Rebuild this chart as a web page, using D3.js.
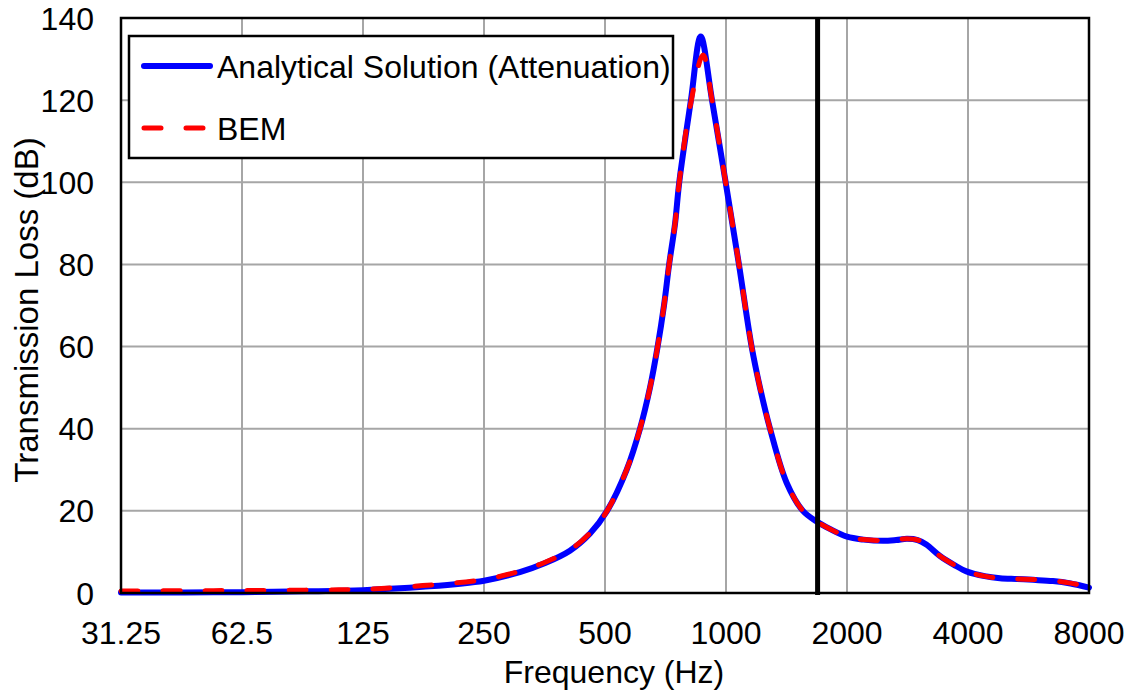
<!DOCTYPE html>
<meta charset="utf-8">
<style>
body { margin: 0; background: #fff; }
text { font-family: Arial, "Liberation Sans", sans-serif; fill: #000; }
</style>
<body>
<script src="https://d3js.org/d3.v7.min.js"></script>
<script>

var width = 1136,
    height = 692;

// frequency axis
var xTicks = [31.25, 62.5, 125, 250, 500, 1000, 2000, 4000, 8000];
var xLabels = ["31.25", "62.5", "125", "250", "500", "1000", "2000", "4000", "8000"];
var yTicks = [0, 20, 40, 60, 80, 100, 120, 140];

// analytical solution
var freqA = [31.25, 45, 62.5, 90, 125, 176, 250, 307, 355, 409, 459, 506, 566, 611, 647, 676, 701, 722, 747, 765, 818, 865, 923, 998, 1077, 1158, 1215, 1287, 1416, 1554, 1682, 1813, 2000, 2200, 2459, 2650, 2820, 3000, 3150, 3407, 3700, 3979, 4400, 4804, 5300, 5804, 6508, 7200, 8000];
var tlA   = [0.1, 0.15, 0.2, 0.4, 0.7, 1.5, 3.0, 5.1, 7.3, 10.3, 14.5, 20, 30, 40, 50, 60, 70, 80, 90, 100, 120, 135.5, 120, 100, 80, 60, 50, 40, 26.8, 20, 17.4, 15.6, 13.7, 13.0, 12.7, 12.9, 13.2, 12.9, 11.8, 9.0, 6.8, 5.2, 4.1, 3.6, 3.4, 3.2, 2.9, 2.3, 1.3];

// BEM results
var freqB = [31.25, 45, 62.5, 90, 125, 176, 250, 307, 355, 409, 459, 506, 566, 611, 647, 676, 701, 722, 747, 765, 818, 877, 923, 998, 1077, 1158, 1215, 1287, 1416, 1554, 1682, 1813, 2000, 2200, 2459, 2650, 2820, 3000, 3150, 3407, 3700, 3979, 4400, 4804, 5300, 5804, 6508, 7200, 8000];
var tlB   = [0.5, 0.55, 0.6, 0.7, 0.9, 1.8, 3.3, 5.3, 7.5, 10.5, 14.6, 20, 30, 40, 50, 60, 70, 80, 90, 100, 119.5, 131, 120, 100, 80, 60, 50, 40, 26.8, 20, 17.4, 15.6, 13.7, 13.0, 12.8, 13.0, 13.2, 12.9, 11.8, 9.0, 6.8, 5.2, 4.1, 3.6, 3.4, 3.3, 3.0, 2.4, 1.5];

var markerFreq = 1690;

var svg = d3.select("body").append("svg")
    .attr("width", width)
    .attr("height", height);

var x = d3.scaleLog().base(2)
    .domain([31.25, 8000])
    .range([121, 1089]);

var y = d3.scaleLinear()
    .domain([0, 140])
    .range([593, 18]);

// grid
svg.append("g").selectAll("line.vgrid")
    .data(xTicks)
    .enter().append("line")
    .attr("x1", function(d) { return x(d); })
    .attr("x2", function(d) { return x(d); })
    .attr("y1", y(0))
    .attr("y2", y(140))
    .style("stroke", "#a6a6a6")
    .style("stroke-width", 2);

svg.append("g").selectAll("line.hgrid")
    .data(yTicks)
    .enter().append("line")
    .attr("x1", x(31.25))
    .attr("x2", x(8000))
    .attr("y1", function(d) { return y(d); })
    .attr("y2", function(d) { return y(d); })
    .style("stroke", "#a6a6a6")
    .style("stroke-width", 2);

// tick labels
svg.append("g").selectAll("text")
    .data(xTicks)
    .enter().append("text")
    .attr("x", function(d) { return x(d); })
    .attr("y", 644)
    .attr("text-anchor", "middle")
    .style("font-size", "32px")
    .text(function(d, i) { return xLabels[i]; });

svg.append("g").selectAll("text")
    .data(yTicks)
    .enter().append("text")
    .attr("x", 94)
    .attr("y", function(d) { return y(d) + 11.5; })
    .attr("text-anchor", "end")
    .style("font-size", "32px")
    .text(function(d) { return d; });

svg.append("text")
    .attr("x", 614)
    .attr("y", 683)
    .attr("text-anchor", "middle")
    .style("font-size", "32px")
    .text("Frequency (Hz)");

svg.append("text")
    .attr("transform", "translate(38,310) rotate(-90)")
    .attr("text-anchor", "middle")
    .style("font-size", "33px")
    .text("Transmission Loss (dB)");

// curves
var lineA = d3.line()
    .x(function(d, i) { return x(freqA[i]); })
    .y(function(d) { return y(d); })
    .curve(d3.curveCatmullRom.alpha(0.5));

var lineB = d3.line()
    .x(function(d, i) { return x(freqB[i]); })
    .y(function(d) { return y(d); })
    .curve(d3.curveCatmullRom.alpha(0.5));

svg.append("path")
    .datum(tlA)
    .attr("d", lineA)
    .style("fill", "none")
    .style("stroke", "#0000ff")
    .style("stroke-width", 6)
    .style("stroke-linecap", "round")
    .style("stroke-linejoin", "round");

svg.append("path")
    .datum(tlB)
    .attr("d", lineB)
    .style("fill", "none")
    .style("stroke", "#ff0000")
    .style("stroke-width", 5)
    .style("stroke-dasharray", "17,25")
    .style("stroke-linecap", "round")
    .style("stroke-linejoin", "round");

// vertical marker
svg.append("line")
    .attr("x1", x(markerFreq))
    .attr("x2", x(markerFreq))
    .attr("y1", y(0) + 2)
    .attr("y2", y(140))
    .style("stroke", "#000")
    .style("stroke-width", 5);

// plot border
svg.append("rect")
    .attr("x", x(31.25))
    .attr("y", y(140))
    .attr("width", x(8000) - x(31.25))
    .attr("height", y(0) - y(140))
    .style("fill", "none")
    .style("stroke", "#000")
    .style("stroke-width", 2.5);

// legend
var legend = svg.append("g");
legend.append("rect")
    .attr("x", 129)
    .attr("y", 36)
    .attr("width", 544)
    .attr("height", 122)
    .style("fill", "#fff")
    .style("stroke", "#000")
    .style("stroke-width", 2.5);

legend.append("line")
    .attr("x1", 144).attr("x2", 210)
    .attr("y1", 66).attr("y2", 66)
    .style("stroke", "#0000ff")
    .style("stroke-width", 6)
    .style("stroke-linecap", "round");

legend.append("line")
    .attr("x1", 144).attr("x2", 210)
    .attr("y1", 128).attr("y2", 128)
    .style("stroke", "#ff0000")
    .style("stroke-width", 5)
    .style("stroke-dasharray", "17,25")
    .style("stroke-linecap", "round");

legend.append("text")
    .attr("x", 217)
    .attr("y", 78)
    .style("font-size", "32px")
    .text("Analytical Solution (Attenuation)");

legend.append("text")
    .attr("x", 217)
    .attr("y", 140)
    .style("font-size", "32px")
    .text("BEM");

</script>
</body>
